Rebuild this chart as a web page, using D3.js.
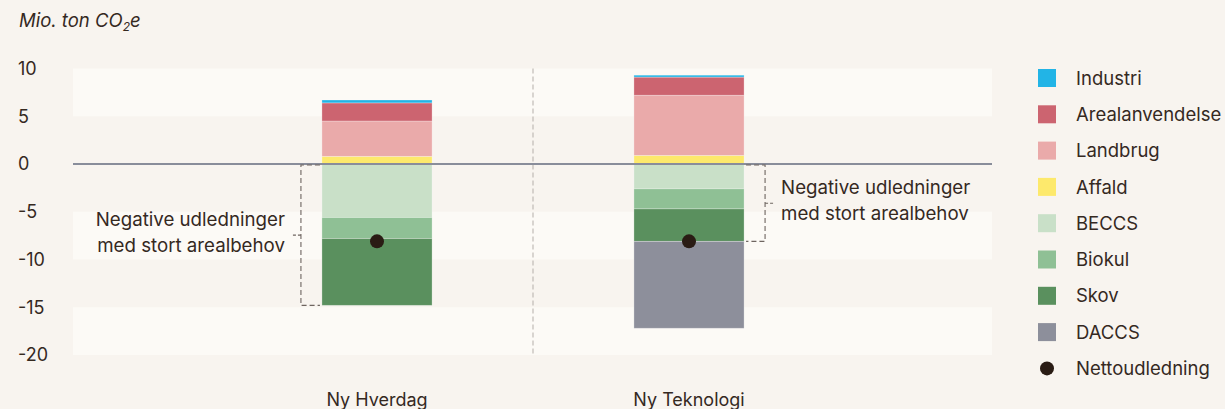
<!DOCTYPE html>
<html>
<head>
<meta charset="utf-8">
<script src="https://cdn.jsdelivr.net/npm/d3@7"></script>
<style>
  html, body { margin: 0; padding: 0; background: #f8f4ef; }
  svg { display: block; }
  text { font-family: Inter, "Noto Sans", sans-serif; fill: #35291f; }
</style>
</head>
<body>
<svg id="chart" width="1225" height="409"></svg>
<script>
// ---- data ----
const categories = ["Ny Hverdag", "Ny Teknologi"];
const industri        = [0.3, 0.2];
const arealanvendelse = [1.9, 1.9];
const landbrug        = [3.7, 6.3];
const affald          = [0.8, 0.9];
const beccs           = [-5.6, -2.6];
const biokul          = [-2.2, -2.1];
const skov            = [-7.0, -3.4];
const daccs           = [0, -9.1];
const nettoudledning  = [-8.1, -8.1];
const yTicks = [10, 5, 0, -5, -10, -15, -20];
const legendLabels = ["Industri", "Arealanvendelse", "Landbrug", "Affald", "BECCS", "Biokul", "Skov", "DACCS", "Nettoudledning"];
const annotationLines = ["Negative udledninger", "med stort arealbehov"];

// ---- styles ----
const colors = {
  Industri: "#22b4e6",
  Arealanvendelse: "#cc6470",
  Landbrug: "#eaaaaa",
  Affald: "#fde96c",
  BECCS: "#c9e0c8",
  Biokul: "#8fc095",
  Skov: "#5a905e",
  DACCS: "#8d8f9b"
};
const seriesData = {
  Industri: industri, Arealanvendelse: arealanvendelse, Landbrug: landbrug, Affald: affald,
  BECCS: beccs, Biokul: biokul, Skov: skov, DACCS: daccs
};
const stackKeys = ["Affald", "Landbrug", "Arealanvendelse", "Industri", "BECCS", "Biokul", "Skov", "DACCS"];

const rows = categories.map((c, i) => {
  const r = { cat: c };
  stackKeys.forEach(k => r[k] = seriesData[k][i]);
  return r;
});

const svg = d3.select("#chart");
const plotLeft = 73, plotRight = 992;

const x = d3.scaleBand().domain(categories).range([221, 845]).paddingInner(0.647).paddingOuter(0.3235);
const y = d3.scaleLinear().domain([-20, 10]).range([355, 68.5]);

// background bands
const bandPairs = [[10, 5], [-5, -10], [-15, -20]];
svg.append("g").selectAll("rect").data(bandPairs).join("rect")
  .attr("x", plotLeft).attr("width", plotRight - plotLeft)
  .attr("y", d => y(d[0])).attr("height", d => y(d[1]) - y(d[0]))
  .attr("fill", "#fcfaf6");

// separator
svg.append("line")
  .attr("x1", (x("Ny Hverdag") + x("Ny Teknologi") + x.bandwidth()) / 2)
  .attr("x2", (x("Ny Hverdag") + x("Ny Teknologi") + x.bandwidth()) / 2)
  .attr("y1", y(10)).attr("y2", y(-20))
  .attr("stroke", "#b4aea9").attr("stroke-width", 1).attr("stroke-dasharray", "5,3");

// title
const title = svg.append("text").attr("x", 19).attr("y", 27)
  .attr("font-size", 18.5).attr("font-style", "italic");
title.append("tspan").text("Mio. ton CO");
title.append("tspan").text("2").attr("font-size", 12).attr("dy", 4);
title.append("tspan").text("e").attr("dy", -4);

// y tick labels
svg.append("g").selectAll("text").data(yTicks).join("text")
  .attr("x", 18).attr("y", d => y(d)).attr("dy", "0.36em")
  .attr("font-size", 18).text(d => d);

// stacked bars
const stack = d3.stack().keys(stackKeys).offset(d3.stackOffsetDiverging);
const series = stack(rows);
svg.append("g").selectAll("g").data(series).join("g")
  .attr("fill", d => colors[d.key])
  .selectAll("rect").data(d => d).join("rect")
  .attr("x", d => x(d.data.cat)).attr("width", x.bandwidth())
  .attr("y", d => y(Math.max(d[0], d[1])))
  .attr("height", d => Math.abs(y(d[0]) - y(d[1])))
  .attr("stroke", "rgba(255,255,255,0.35)").attr("stroke-width", 0.8);

// zero line
svg.append("line").attr("x1", plotLeft).attr("x2", plotRight)
  .attr("y1", y(0)).attr("y2", y(0))
  .attr("stroke", "#898d9a").attr("stroke-width", 2.2);

// brackets
const bracketKeys = ["BECCS", "Biokul", "Skov"];
categories.forEach((c, i) => {
  const landSum = bracketKeys.reduce((s, k) => s + seriesData[k][i], 0);
  const y0 = y(0) + 1, y1 = y(landSum);
  const mid = (y0 + y1) / 2;
  const g = svg.append("g").attr("fill", "none").attr("stroke", "#6e6560")
    .attr("stroke-width", 1.1).attr("stroke-dasharray", "5,3");
  let vx, hx, tx, textX, anchor;
  if (i === 0) {
    vx = x(c) - 21; hx = x(c) - 2; tx = vx - 9; textX = vx - 16; anchor = "end";
  } else {
    vx = x(c) + x.bandwidth() + 21; hx = x(c) + x.bandwidth() + 2; tx = vx + 8; textX = vx + 16; anchor = "start";
  }
  g.append("path").attr("d", `M${hx},${y0}H${vx}V${y1}H${hx}`);
  g.append("line").attr("x1", vx).attr("x2", tx).attr("y1", mid).attr("y2", mid)
    .attr("stroke-dasharray", "3,2");
  const t = svg.append("text").attr("font-size", 18.7).attr("text-anchor", anchor);
  annotationLines.forEach((l, j) => {
    t.append("tspan").attr("x", textX).attr("y", mid - 9.5 + j * 26.7).text(l);
  });
});

// net dots
svg.append("g").selectAll("circle").data(categories).join("circle")
  .attr("cx", d => x(d) + x.bandwidth() / 2)
  .attr("cy", (d, i) => y(nettoudledning[i]))
  .attr("r", 7).attr("fill", "#2a1c14");

// category labels
svg.append("g").selectAll("text").data(categories).join("text")
  .attr("x", d => x(d) + x.bandwidth() / 2).attr("y", 406)
  .attr("text-anchor", "middle").attr("font-size", 18).text(d => d);

// legend
const lg = svg.append("g");
legendLabels.forEach((l, i) => {
  const cy = 78 + i * 36.3;
  if (colors[l]) {
    lg.append("rect").attr("x", 1038).attr("y", cy - 9).attr("width", 18).attr("height", 18)
      .attr("fill", colors[l]);
  } else {
    lg.append("circle").attr("cx", 1047).attr("cy", cy).attr("r", 7).attr("fill", "#2a1c14");
  }
  lg.append("text").attr("x", 1076).attr("y", cy).attr("dy", "0.36em")
    .attr("font-size", 18.5).text(l);
});
</script>
</body>
</html>
